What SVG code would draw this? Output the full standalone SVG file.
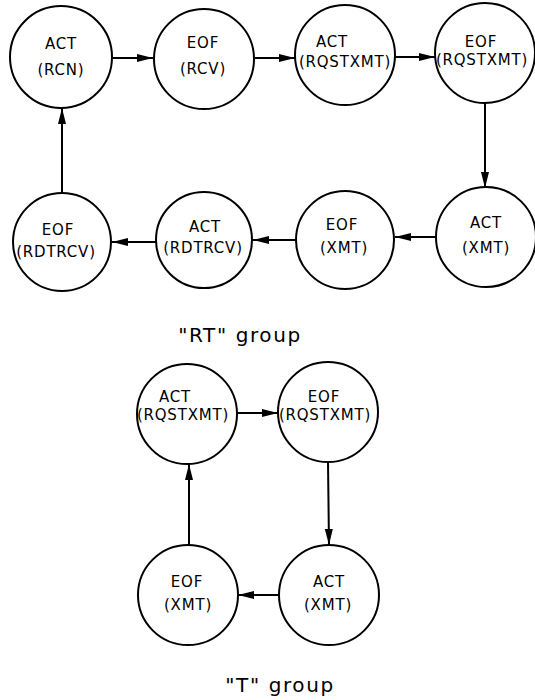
<svg xmlns="http://www.w3.org/2000/svg" width="535" height="700" viewBox="0 0 535 700">
<style>
.n{fill:#fff;stroke:#000;stroke-width:2}
.t{font-family:"DejaVu Sans",sans-serif;font-size:15px;letter-spacing:0.8px;text-anchor:middle;fill:#000}
.g{font-family:"DejaVu Sans",sans-serif;font-size:20px;letter-spacing:1.6px;text-anchor:middle;fill:#000}
.e{stroke:#000;stroke-width:2;fill:none;marker-end:url(#ah)}
</style>
<defs>
<marker id="ah" markerUnits="userSpaceOnUse" markerWidth="17" markerHeight="10" refX="16" refY="5" orient="auto">
<path d="M0,1 L16,5 L0,9 z" fill="#000"/>
</marker>
</defs>
<rect width="535" height="700" fill="#fff"/>
<g id="connectors">
<line class="e" x1="113" y1="58" x2="153" y2="58"/>
<line class="e" x1="255" y1="58" x2="295" y2="58"/>
<line class="e" x1="395" y1="57" x2="435" y2="57"/>
<line class="e" x1="485" y1="103" x2="485" y2="188"/>
<line class="e" x1="436" y1="237" x2="395" y2="237"/>
<line class="e" x1="296" y1="240" x2="253" y2="240"/>
<line class="e" x1="156" y1="242" x2="112" y2="242"/>
<line class="e" x1="62" y1="193" x2="62" y2="108"/>
<line class="e" x1="237" y1="413" x2="278" y2="413"/>
<line class="e" x1="328" y1="462" x2="329" y2="545"/>
<line class="e" x1="279" y1="595" x2="238" y2="595"/>
<line class="e" x1="189" y1="545" x2="189" y2="464"/>
</g>
<g id="rt-act-rcn"><circle class="n" cx="61" cy="57" r="51"/><text class="t" x="61" y="49">ACT</text><text class="t" x="61" y="75">(RCN)</text></g>
<g id="rt-eof-rcv"><circle class="n" cx="204" cy="59" r="50"/><text class="t" x="203" y="48">EOF</text><text class="t" x="203" y="74">(RCV)</text></g>
<g id="rt-act-rqstxmt"><circle class="n" cx="345" cy="55" r="50"/><text class="t" x="332" y="47">ACT</text><text class="t" x="345" y="67">(RQSTXMT)</text></g>
<g id="rt-eof-rqstxmt"><circle class="n" cx="485" cy="53" r="50"/><text class="t" x="481" y="47">EOF</text><text class="t" x="482" y="65">(RQSTXMT)</text></g>
<g id="rt-act-xmt"><circle class="n" cx="486" cy="237" r="50"/><text class="t" x="486" y="228">ACT</text><text class="t" x="486" y="253">(XMT)</text></g>
<g id="rt-eof-xmt"><circle class="n" cx="345" cy="240" r="49"/><text class="t" x="342" y="230">EOF</text><text class="t" x="344" y="253">(XMT)</text></g>
<g id="rt-act-rdtrcv"><circle class="n" cx="204" cy="240" r="48"/><text class="t" x="205" y="232">ACT</text><text class="t" x="203" y="253">(RDTRCV)</text></g>
<g id="rt-eof-rdtrcv"><circle class="n" cx="62" cy="242" r="49"/><text class="t" x="58" y="235">EOF</text><text class="t" x="56" y="257">(RDTRCV)</text></g>
<text class="g" x="240" y="342">"RT" group</text>
<g id="t-act-rqstxmt"><circle class="n" cx="187" cy="414" r="50"/><text class="t" x="175" y="402">ACT</text><text class="t" x="183" y="420">(RQSTXMT)</text></g>
<g id="t-eof-rqstxmt"><circle class="n" cx="328" cy="412" r="50"/><text class="t" x="324" y="402">EOF</text><text class="t" x="325" y="420">(RQSTXMT)</text></g>
<g id="t-act-xmt"><circle class="n" cx="329" cy="595" r="50"/><text class="t" x="329" y="587">ACT</text><text class="t" x="328" y="610">(XMT)</text></g>
<g id="t-eof-xmt"><circle class="n" cx="188" cy="595" r="50"/><text class="t" x="187" y="587">EOF</text><text class="t" x="188" y="610">(XMT)</text></g>
<text class="g" x="280" y="692">"T" group</text>
</svg>
